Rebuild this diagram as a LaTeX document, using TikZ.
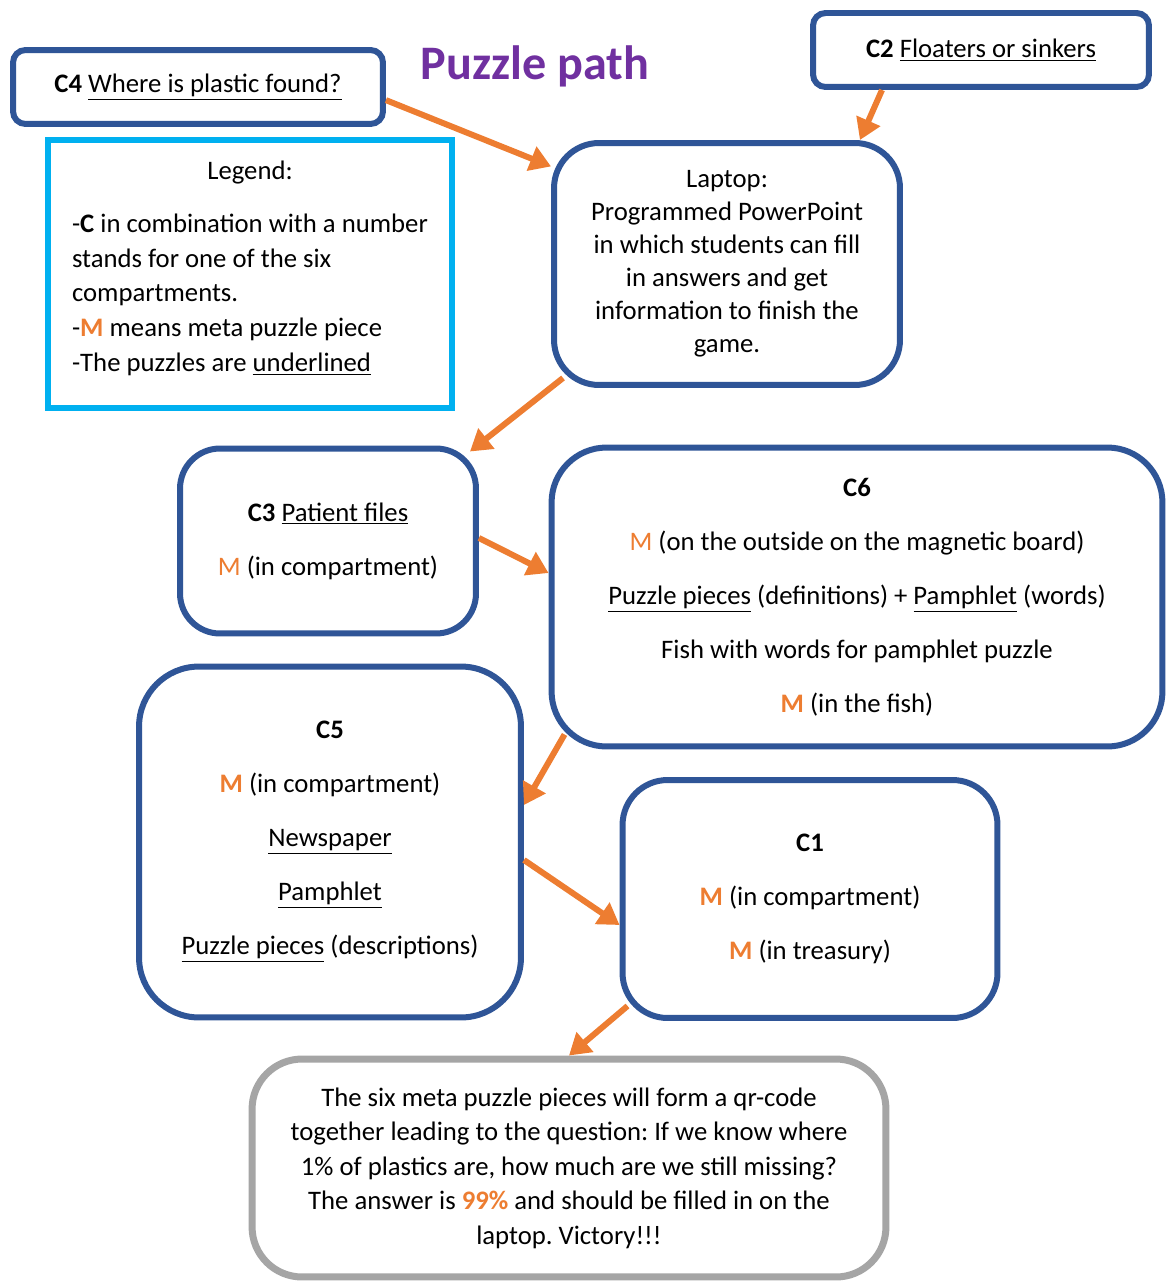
\documentclass[tikz,border=0pt]{standalone}
\usepackage{fontspec}
\setmainfont{Carlito}
\usetikzlibrary{arrows.meta}
\frenchspacing

\definecolor{boxblue}{HTML}{2F5597}
\definecolor{legendcyan}{HTML}{00B0F0}
\definecolor{pathorange}{HTML}{ED7D31}
\definecolor{endgrey}{HTML}{A5A5A5}
\definecolor{titlepurple}{HTML}{7030A0}

\newcommand{\metaM}{\textcolor{pathorange}{\textbf{M}}}
\newcommand{\metaMthin}{\textcolor{pathorange}{M}}

\begin{document}
\begin{tikzpicture}[x=0.02cm, y=-0.02cm]
    \tikzstyle{box}=[rectangle, draw=boxblue, line width=0.12cm, fill=white, align=center, text=black]
    \tikzstyle{flat}=[box, rounded corners=0.25cm, font=\fontsize{15.2}{18.8}\selectfont]
    \tikzstyle{compartment}=[box, font=\fontsize{15.2}{30.7}\selectfont]
    \tikzstyle{connect}=[-{Triangle[length=0.42cm,width=0.5cm]}, line width=0.12cm, draw=pathorange, fill=pathorange]

      \useasboundingbox (0,0) rectangle (1168,1283);

      \node[text=titlepurple, font=\fontsize{27.4}{32}\selectfont\bfseries] (title) at (535,66) {Puzzle path};

      \node[flat, minimum width=7.4cm, minimum height=1.48cm] (c4) at (198,87)
        {\textbf{C4} \underline{Where is plastic found?}};
      \node[flat, minimum width=6.72cm, minimum height=1.48cm] (c2) at (981,50)
        {\textbf{C2} \underline{Floaters or sinkers}};

      \node[box, draw=legendcyan, minimum width=8.1cm, minimum height=5.36cm, font=\fontsize{15.2}{19.9}\selectfont] (legend) at (250,274)
        {\begin{tabular}{@{}l@{}}
           \multicolumn{1}{@{}c@{}}{Legend:}\\[10pt]
           -\textbf{C} in combination with a number\\
           stands for one of the six\\
           compartments.\\
           -\metaM{} means meta puzzle piece\\
           -The puzzles are \underline{underlined}\\[6pt]
         \end{tabular}};

      \node[compartment, rounded corners=0.9cm, minimum width=6.92cm, minimum height=4.84cm, font=\fontsize{15.2}{18.8}\selectfont] (laptop) at (727,264)
        {Laptop:\\ Programmed PowerPoint\\ in which students can fill\\ in answers and get\\ information to finish the\\ game.};

      \node[compartment, rounded corners=0.8cm, minimum width=5.92cm, minimum height=3.7cm] (c3) at (328,541)
        {\textbf{C3} \underline{Patient files}\\ \metaMthin{} (in compartment)};

      \node[compartment, rounded corners=1.1cm, minimum width=12.22cm, minimum height=5.98cm] (c6) at (857,597)
        {\textbf{C6}\\
         \metaMthin{} (on the outside on the magnetic board)\\
         \underline{Puzzle pieces} (definitions) + \underline{Pamphlet} (words)\\
         Fish with words for pamphlet puzzle\\
         \metaM{} (in the fish)};

      \node[compartment, rounded corners=1.2cm, minimum width=7.64cm, minimum height=7.02cm] (c5) at (330,842)
        {\textbf{C5}\\
         \metaM{} (in compartment)\\
         \underline{Newspaper}\\
         \underline{Pamphlet}\\
         \underline{Puzzle pieces} (descriptions)};

      \node[compartment, rounded corners=0.9cm, minimum width=7.5cm, minimum height=4.76cm] (c1) at (810,899)
        {\textbf{C1}\\
         \metaM{} (in compartment)\\
         \metaM{} (in treasury)};

      \node[box, draw=endgrey, line width=0.14cm, rounded corners=1cm, minimum width=12.68cm, minimum height=4.36cm, font=\fontsize{15.2}{19.6}\selectfont] (final) at (569,1168)
        {The six meta puzzle pieces will form a qr-code\\
         together leading to the question: If we know where\\
         1\% of plastics are, how much are we still missing?\\
         The answer is \textcolor{pathorange}{\textbf{99\%}} and should be filled in on the\\
         laptop. Victory!!!};

      \path
        (c4.-4) edge [connect] (laptop.151)
        (c2.202) edge [connect] (laptop.43)
        ([xshift=0.24cm,yshift=0.2cm]laptop.south west) edge [connect] ([xshift=-0.18cm,yshift=-0.12cm]c3.north east)
        ([yshift=0.06cm]c3.east) edge [connect] ([yshift=0.48cm]c6.west)
        ([xshift=0.32cm,yshift=0.3cm]c6.south west) edge [connect] ([yshift=0.74cm]c5.east)
        ([yshift=-0.36cm]c5.east) edge [connect] ([yshift=-0.52cm]c1.west)
        ([xshift=0.16cm,yshift=0.3cm]c1.south west) edge [connect] (final.north);
    \end{tikzpicture}
\end{document}
